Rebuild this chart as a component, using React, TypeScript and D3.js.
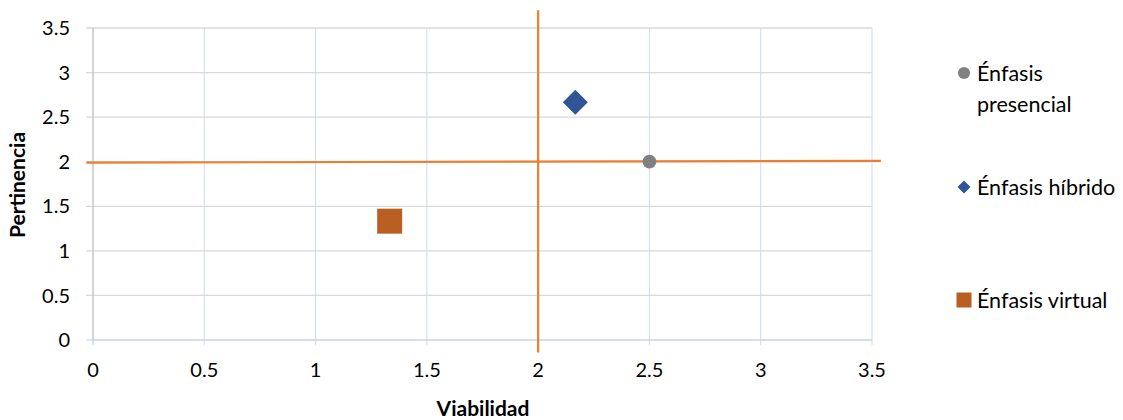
import React from "react";
import * as d3 from "d3";

const seriesNames = ["Énfasis presencial", "Énfasis híbrido", "Énfasis virtual"];
const seriesX = [2.5, 2.167, 1.333];
const seriesY = [2.0, 2.667, 1.333];
const seriesColors = ["#808080", "#2f5597", "#ba5f23"];
const seriesShapes = ["circle", "diamond", "square"];
const xTicks = [0, 0.5, 1, 1.5, 2, 2.5, 3, 3.5];
const yTicks = [0, 0.5, 1, 1.5, 2, 2.5, 3, 3.5];
const hLineX = [-0.03, 3.54];
const hLineY = [1.99, 2.01];
const vLineX = [2.0, 2.0];
const vLineY = [3.7, -0.14];

const W = 1123, H = 420;
const left = 93, right = 872, top = 28, bottom = 340;
const font = "Lato, sans-serif";
const fs = 20;

export default function App() {
  const x = d3.scaleLinear().domain([0, 3.5]).range([left, right]);
  const y = d3.scaleLinear().domain([0, 3.5]).range([bottom, top]);
  const line = d3.line<[number, number]>().x(d => x(d[0])).y(d => y(d[1]));
  const hPts: [number, number][] = hLineX.map((v, i) => [v, hLineY[i]]);
  const vPts: [number, number][] = vLineX.map((v, i) => [v, vLineY[i]]);

  const marker = (shape: string, cx: number, cy: number, color: string, s: number, key: any) => {
    if (shape === "circle") return <circle key={key} cx={cx} cy={cy} r={s * 0.55} fill={color} />;
    if (shape === "diamond") return <path key={key} d={`M${cx},${cy - s}L${cx + s},${cy}L${cx},${cy + s}L${cx - s},${cy}Z`} fill={color} />;
    return <rect key={key} x={cx - s} y={cy - s} width={2 * s} height={2 * s} fill={color} />;
  };

  const legendItems = [
    { y: 73, lines: ["Énfasis", "presencial"] },
    { y: 187, lines: ["Énfasis híbrido"] },
    { y: 300, lines: ["Énfasis virtual"] },
  ];
  const legendSize = [11, 6.5, 7.5];

  return (
    <svg width={W} height={H} style={{ position: "absolute", left: 0, top: 0, background: "#fff" }}>
      {xTicks.slice(1).map(t => (
        <line key={"vx" + t} x1={x(t)} x2={x(t)} y1={top} y2={bottom + 5} stroke="#cfdaee" strokeWidth={1} />
      ))}
      {yTicks.slice(1).map(t => (
        <line key={"hy" + t} x1={left - 7} x2={right} y1={y(t)} y2={y(t)} stroke="#d9d9d9" strokeWidth={1.3} />
      ))}
      <line x1={left - 7} x2={left} y1={bottom} y2={bottom} stroke="#d9d9d9" strokeWidth={1.3} />
      <line x1={left} x2={left} y1={top} y2={bottom} stroke="#bfbfbf" strokeWidth={1.3} />
      <line x1={left} x2={right} y1={bottom} y2={bottom} stroke="#c5d3ec" strokeWidth={1.5} />
      <line x1={left} x2={left} y1={bottom} y2={bottom + 5} stroke="#c5d3ec" strokeWidth={1.3} />
      {yTicks.map(t => (
        <text key={"yl" + t} x={left - 23} y={y(t)} dy="0.36em" textAnchor="end" fontFamily={font} fontSize={fs} fill="#000">{t}</text>
      ))}
      {xTicks.map(t => (
        <text key={"xl" + t} x={x(t)} y={bottom + 37} textAnchor="middle" fontFamily={font} fontSize={fs} fill="#000">{t}</text>
      ))}
      <text x={483} y={416} textAnchor="middle" fontFamily={font} fontWeight="bold" fontSize={21} fill="#000">Viabilidad</text>
      <text transform={`translate(25,185) rotate(-90)`} textAnchor="middle" fontFamily={font} fontWeight="bold" fontSize={21} fill="#000">Pertinencia</text>
      <path d={line(hPts) || ""} stroke="#ed7d31" strokeWidth={2.2} fill="none" />
      <path d={line(vPts) || ""} stroke="#ed7d31" strokeWidth={2.2} fill="none" />
      {seriesX.map((v, i) => marker(seriesShapes[i], x(v), y(seriesY[i]), seriesColors[i], 12.5, "p" + i))}
      {legendItems.map((it, i) => (
        <g key={"lg" + i}>
          {marker(seriesShapes[i], 964, it.y, seriesColors[i], legendSize[i], "lm" + i)}
          {it.lines.map((l, j) => (
            <text key={j} x={977} y={it.y + j * 31} dy="0.36em" fontFamily={font} fontSize={21.5} fill="#000">{l}</text>
          ))}
        </g>
      ))}
    </svg>
  );
}
